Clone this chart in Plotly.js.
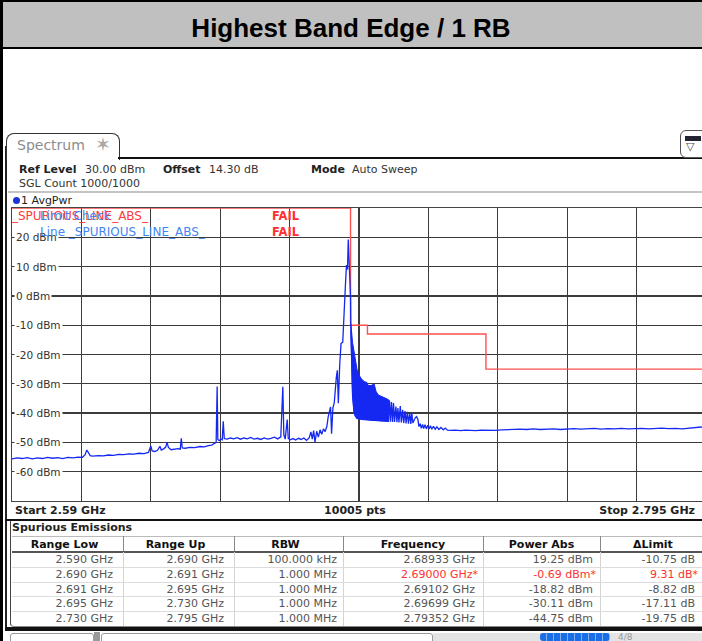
<!DOCTYPE html>
<html>
<head>
<meta charset="utf-8">
<script src="https://cdn.plot.ly/plotly-3.0.1.min.js"></script>
<style>
html,body{margin:0;padding:0;background:#fff;}
#page{position:relative;width:702px;height:641px;overflow:hidden;background:#fff;font-family:"DejaVu Sans",sans-serif;color:#222;}
.a{position:absolute;white-space:nowrap;}
.t{position:absolute;white-space:nowrap;font-size:11px;line-height:13px;height:13px;}
.b{font-weight:bold;}
#plot{position:absolute;left:0;top:0;width:720px;height:641px;z-index:1;}
.ov{z-index:3;}
.hc{position:absolute;font-size:11px;font-weight:bold;line-height:13px;text-align:center;color:#111;}
.dc{position:absolute;font-size:11px;line-height:13px;text-align:right;color:#555;}
</style>
</head>
<body>
<div id="page">
  <!-- title bar -->
  <div class="a" style="left:0;top:0;width:702px;height:45px;background:#c0c0c0;border-top:2px solid #000;border-bottom:2px solid #000;"></div>
  <div class="a" style="left:0;top:15px;width:702px;text-align:center;font:bold 26px 'Liberation Sans',Arial,sans-serif;line-height:26px;color:#000;">Highest Band Edge / 1 RB</div>
  <div class="a" style="left:0;top:0;width:3px;height:641px;background:#000;z-index:5;"></div>

  <!-- spectrum window frame -->
  <div class="a" style="left:5px;top:146px;width:2px;height:485px;background:#222;"></div>
  <div class="a" style="left:6px;top:133px;width:112px;height:26px;border:1.5px solid #333;border-bottom:none;border-radius:8px 8px 0 0;background:#fff;"></div>
  <div class="a" style="left:17px;top:137px;font-size:14px;line-height:17px;color:#8c8c8c;">Spectrum</div>
  <div class="a" style="left:95px;top:134px;font-size:19px;line-height:21px;color:#a8a8a8;">✶</div>
  <div class="a" style="left:118px;top:157px;width:584px;height:2px;background:#111;"></div>
  <div class="a" style="left:680px;top:130px;width:30px;height:26px;border:1.2px solid #555;border-radius:6px;background:#fff;"></div>
  <div class="a" style="left:685px;top:136px;width:16px;height:5px;background:#223;"></div>
  <div class="a" style="left:686px;top:140px;font-size:11px;line-height:13px;color:#445;">▽</div>

  <!-- header info -->
  <div class="t b" style="left:19px;top:162.5px;">Ref Level</div>
  <div class="t" style="left:85px;top:162.5px;color:#333;">30.00 dBm</div>
  <div class="t b" style="left:163px;top:162.5px;">Offset</div>
  <div class="t" style="left:209px;top:162.5px;color:#333;">14.30 dB</div>
  <div class="t b" style="left:311px;top:162.5px;">Mode</div>
  <div class="t" style="left:352px;top:162.5px;color:#333;">Auto Sweep</div>
  <div class="t" style="left:19px;top:177px;color:#333;">SGL Count 1000/1000</div>
  <div class="a" style="left:8px;top:191px;width:694px;height:2px;background:#c4c4c4;"></div>
  <div class="a" style="left:13px;top:196.5px;width:7px;height:7px;border-radius:50%;background:#1a36d8;"></div>
  <div class="t" style="left:21px;top:193.5px;color:#222;">1 AvgPwr</div>

  <!-- limit check overlay texts -->
  <div class="a ov" style="left:12px;top:209px;font-size:12px;line-height:14px;color:#ff3a3a;">_SPURIOUS_LINE_ABS_</div>
  <div class="a ov" style="left:40px;top:209px;font-size:12px;line-height:14px;color:#3f86f2;">Limit Check</div>
  <div class="a ov" style="left:272px;top:209px;font-size:11.5px;line-height:14px;color:#ff3030;font-weight:bold;">FAIL</div>
  <div class="a ov" style="left:40px;top:224.5px;font-size:12px;line-height:14px;color:#3f86f2;">Line _SPURIOUS_LINE_ABS_</div>
  <div class="a ov" style="left:272px;top:224.5px;font-size:11.5px;line-height:14px;color:#ff3030;font-weight:bold;">FAIL</div>

  <div id="plot"></div>

  <!-- bottom axis row -->
  <div class="t b ov" style="left:15px;top:503.5px;">Start 2.59 GHz</div>
  <div class="t b ov" style="left:305px;width:100px;text-align:center;top:503.5px;">10005 pts</div>
  <div class="t b ov" style="right:7px;top:503.5px;">Stop 2.795 GHz</div>
  <div class="a" style="left:5px;top:518.5px;width:697px;height:2px;background:#111;"></div>

  <!-- table -->
  <div class="a" style="left:10px;top:521px;width:700px;height:105px;border-left:1.5px solid #444;border-bottom:1px solid #888;border-radius:0 0 0 4px;"></div>
  <div class="t b" style="left:12px;top:520.5px;">Spurious Emissions</div>
  <div id="tbl"></div>
  <div class="a" style="left:5px;top:627px;width:697px;height:4px;background:#111;"></div>

  <!-- status strip -->
  <div class="a" style="left:10px;top:633px;width:82px;height:12px;border:1px solid #999;border-radius:3px;background:#fff;"></div>
  <div class="a" style="left:94px;top:632px;width:6px;height:10px;background:#9a9a9a;"></div>
  <div class="a" style="left:101px;top:633px;width:330px;height:12px;border:1px solid #999;border-radius:3px;background:#fff;"></div>
  <div class="a" style="left:433px;top:633px;width:269px;height:8px;background:#e4e4e4;"></div>
  <div class="a" style="left:540px;top:633px;width:70px;height:8px;border-radius:3px;background:repeating-linear-gradient(90deg,#1a6ee6 0 6px,#7fb0f0 6px 7px);"></div>
  <div class="a" style="left:618px;top:632px;font-size:9px;line-height:10px;color:#999;">4/8</div>
</div>

<script>
// ---------------- spectrum trace data (GHz / dBm) ----------------
// part below the band edge: 2.590 GHz .. 2.690 GHz
const lowFreqGHz = [
  2.5900,2.5915,2.5930,2.5945,2.5960,2.5975,2.5990,2.6005,2.6020,2.6035,2.6050,2.6065,2.6080,2.6095,2.6108,2.6116,2.6121,2.6126,2.6131,2.6138,
  2.6155,2.6170,2.6185,2.6200,2.6215,2.6230,2.6245,2.6260,2.6275,2.6290,2.6303,2.6310,2.6314,2.6322,2.6330,2.6337,2.6341,2.6348,2.6354,2.6358,2.6362,2.6370,2.6380,2.6390,2.6397,2.6400,2.6403,2.6412,2.6425,2.6440,2.6455,2.6468,2.6480,2.6490,2.6497,2.6503,
  2.6506,2.6508,2.6512,2.6517,2.6521,2.6524,2.6527,2.6535,2.6545,2.6555,2.6565,2.6575,2.6585,2.6595,2.6605,2.6615,2.6625,2.6635,2.6645,2.6655,2.6665,2.6675,2.6685,2.6694,2.6700,2.6703,2.6707,2.6713,2.6716,2.6722,2.6730,2.6738,2.6746,2.6754,2.6762,2.6770,2.6778,2.6783,2.6787,2.6791,2.6795,2.6800,2.6805,2.6810,2.6815,2.6820,2.6825,
  2.6830,2.6834,2.6838,2.6841,2.6844,2.6848,2.6852,2.6855,2.6858,2.6861,2.6864,2.6868,2.6872,2.6877,2.6881,2.6885,2.6888,2.6891,2.68933,2.6896,2.6898,2.6900
];
const lowPowerDbm = [
  -55.6,-55.3,-55.5,-55.2,-55.6,-55.3,-55.5,-55.1,-55.4,-55.2,-55.5,-55.1,-55.3,-55.0,-55.1,-54.2,-52.6,-53.4,-54.5,-54.7,
  -54.5,-54.6,-54.3,-54.4,-54.1,-54.2,-53.9,-54.0,-53.7,-53.8,-53.4,-51.2,-52.9,-53.1,-52.7,-51.3,-52.6,-52.2,-51.6,-50.0,-51.7,-52.5,-52.3,-52.1,-52.3,-48.6,-51.9,-52.0,-51.7,-51.8,-51.4,-51.5,-51.1,-50.9,-50.4,-50.0,
  -30.9,-49.0,-49.4,-48.9,-49.1,-42.8,-48.7,-48.9,-48.5,-48.8,-48.4,-48.9,-48.5,-48.8,-48.3,-48.9,-48.6,-49.0,-48.5,-48.9,-48.6,-48.2,-48.8,-48.1,-31.0,-47.4,-48.9,-42.2,-48.6,-49.1,-48.7,-49.2,-48.6,-49.0,-48.5,-49.3,-48.4,-46.4,-48.9,-46.0,-49.9,-46.2,-48.2,-45.7,-47.2,-45.4,-46.3,
  -44.6,-41.3,-38.9,-37.9,-47.0,-38.2,-36.4,-29.9,-27.8,-25.4,-36.6,-23.5,-16.2,-15.8,-8.0,4.0,10.5,9.0,19.25,11.0,3.5,-0.69
];
// densely modulated region just above the band edge (envelope of the trace)
const bandFreqGHz  = [2.6901,2.6903,2.6906,2.69102,2.6914,2.6919,2.6925,2.6932,2.6940,2.6949,2.6951,2.6960,2.69699,2.6975,2.6982,2.6990,2.6998,2.7005,2.7012];
const bandUpperDbm = [-9.5,-12.5,-16.0,-18.82,-22.0,-25.0,-27.0,-28.3,-29.2,-29.6,-30.5,-30.6,-30.11,-32.5,-33.8,-34.2,-34.5,-35.0,-35.4];
const bandLowerDbm = [-12.0,-24.0,-34.0,-39.5,-41.0,-41.8,-42.0,-42.1,-42.2,-42.2,-42.3,-42.4,-42.5,-42.5,-42.6,-42.6,-42.7,-42.7,-42.8];
// part above the dense region: 2.7015 GHz .. 2.795 GHz
const highFreqGHz = [
  2.7015,2.7018,2.7021,2.7024,2.7027,2.7030,2.7034,2.7037,2.7040,2.7043,2.7047,2.7050,2.7054,2.7057,2.7061,2.7064,2.7068,2.7071,2.7075,2.7078,2.7081,2.7084,2.7088,2.7091,2.7095,2.7099,2.7102,2.7106,2.7109,2.7113,2.7116,2.7120,2.7124,2.7128,2.7132,2.7136,2.7140,2.7145,2.7150,2.7155,2.7161,2.7167,2.7174,2.7180,2.7186,
  2.7195,2.7210,2.7225,2.7240,2.7255,2.7270,2.7285,2.7300,2.7315,2.7330,2.7345,2.7360,2.7380,2.7400,2.7420,2.7440,2.7460,2.7480,2.7500,2.7520,2.7540,2.7560,2.7580,2.7600,2.7620,2.7640,2.7660,2.7680,2.7700,2.7720,2.7740,2.7760,2.7780,2.7800,2.7820,2.7840,2.7860,2.7880,2.7900,2.7920,2.79352,2.7945,2.7950
];
const highPowerDbm = [
  -35.6,-42.9,-36.2,-43.0,-36.6,-43.0,-37.8,-43.1,-38.3,-43.2,-37.6,-43.2,-38.9,-43.4,-39.3,-43.5,-39.6,-43.6,-40.1,-43.7,-39.9,-43.4,-42.0,-41.6,-41.2,-42.2,-44.6,-43.6,-45.2,-43.9,-45.3,-44.0,-45.4,-44.1,-45.4,-44.3,-45.5,-44.5,-45.5,-44.7,-45.6,-44.9,-45.7,-45.1,-45.8,
  -45.9,-45.8,-46.0,-45.8,-45.9,-46.0,-45.8,-45.9,-45.8,-45.9,-45.7,-45.6,-45.7,-45.5,-45.6,-45.4,-45.6,-45.5,-45.4,-45.6,-45.4,-45.3,-45.5,-45.4,-45.2,-45.5,-45.3,-45.4,-45.2,-45.4,-45.3,-45.2,-45.4,-45.3,-45.1,-45.3,-45.2,-45.4,-45.2,-45.1,-44.75,-45.2,-45.3
];
// limit line _SPURIOUS_LINE_ABS_
const limitFreqGHz = [2.590, 2.690, 2.690, 2.695, 2.695, 2.730, 2.730, 2.795];
const limitDbm     = [30, 30, -10, -10, -13, -13, -25, -25];
// y axis tick labels
const yTickValues = [20, 10, 0, -10, -20, -30, -40, -50, -60];
const yTickLabels = ['20 dBm','10 dBm','0 dBm','-10 dBm','-20 dBm','-30 dBm','-40 dBm','-50 dBm','-60 dBm'];

// ---------------- spurious emissions table ----------------
const colHeaders   = ['Range Low','Range Up','RBW','Frequency','Power Abs','\u0394Limit'];
const rangeLowGHz  = [2.590, 2.690, 2.691, 2.695, 2.730];
const rangeUpGHz   = [2.690, 2.691, 2.695, 2.730, 2.795];
const rbwLabels    = ['100.000 kHz','1.000 MHz','1.000 MHz','1.000 MHz','1.000 MHz'];
const peakFreqGHz  = [2.68933, 2.69000, 2.69102, 2.69699, 2.79352];
const powerAbsDbm  = [19.25, -0.69, -18.82, -30.11, -44.75];
const deltaLimitDb = [-10.75, 9.31, -8.82, -17.11, -19.75];
const failFlags    = [false, true, false, false, false];

// ---------------- build the chart ----------------
const blue = '#1428f2';
const traceX = lowFreqGHz.concat(bandFreqGHz, highFreqGHz);
const traceY = lowPowerDbm.concat(bandLowerDbm, highPowerDbm);

const traces = [
  {x: limitFreqGHz, y: limitDbm, mode: 'lines', line: {color: '#ff5050', width: 1.4}, hoverinfo: 'skip'},
  {x: bandFreqGHz.concat(bandFreqGHz.slice().reverse()),
   y: bandUpperDbm.concat(bandLowerDbm.slice().reverse()),
   mode: 'lines', fill: 'toself', fillcolor: blue, line: {color: blue, width: 1}, hoverinfo: 'skip'},
  {x: traceX, y: traceY, mode: 'lines', line: {color: blue, width: 1.3}, hoverinfo: 'skip'}
];

const axisCommon = {
  showgrid: true, gridcolor: '#3c3c3c', gridwidth: 1.3,
  showticklabels: false, ticks: '', zeroline: false,
  showline: true, mirror: true, linecolor: '#444', linewidth: 1.2,
  layer: 'below traces', fixedrange: true
};

const layout = {
  width: 720, height: 641,
  margin: {l: 12, r: 14.4, t: 208, b: 139.5, pad: 0},
  paper_bgcolor: 'rgba(0,0,0,0)', plot_bgcolor: 'rgba(0,0,0,0)',
  showlegend: false,
  xaxis: Object.assign({range: [2.59, 2.795], tick0: 2.59, dtick: 0.0205}, axisCommon),
  yaxis: Object.assign({range: [-70, 30], tick0: 0, dtick: 10}, axisCommon),
  annotations: yTickValues.map((v, i) => ({
    xref: 'paper', yref: 'y', x: 0, y: v, xanchor: 'left', yanchor: 'middle',
    xshift: 2, text: yTickLabels[i], showarrow: false,
    bgcolor: '#ffffff', borderpad: 1,
    font: {family: 'DejaVu Sans', size: 10.5, color: '#333'}
  }))
};

Plotly.newPlot('plot', traces, layout, {staticPlot: true, displayModeBar: false});

// ---------------- build the table ----------------
const colEdges = [12, 123, 234, 343, 483, 600, 706];
const padRight = [10, 10, 6, 8, 7, 11];
const rowTop0 = 552, rowH = 14.75;
let html = '';
html += '<div class="a" style="left:12px;top:535.5px;width:694px;height:1px;background:#bbb;"></div>';
html += '<div class="a" style="left:12px;top:551px;width:694px;height:1.5px;background:#555;"></div>';
for (let c = 0; c < colHeaders.length; c++) {
  const w = colEdges[c + 1] - colEdges[c];
  const shift = c < 3 ? 6 : 0;
  html += `<div class="hc" style="left:${colEdges[c]}px;top:537.5px;width:${w - shift}px;">${colHeaders[c]}</div>`;
  if (c > 0) {
    html += `<div class="a" style="left:${colEdges[c]}px;top:536px;width:1px;height:15px;background:#888;"></div>`;
    html += `<div class="a" style="left:${colEdges[c]}px;top:552px;width:1px;height:74px;background:#d4d4d4;"></div>`;
  }
}
for (let r = 0; r < rangeLowGHz.length; r++) {
  const top = rowTop0 + r * rowH;
  if (r > 0) html += `<div class="a" style="left:12px;top:${top}px;width:694px;height:1px;background:#dcdcdc;"></div>`;
  const star = failFlags[r] ? '<span style="margin-right:-3px">*</span>' : '';
  const cells = [
    rangeLowGHz[r].toFixed(3) + ' GHz',
    rangeUpGHz[r].toFixed(3) + ' GHz',
    rbwLabels[r],
    peakFreqGHz[r].toFixed(5) + ' GHz' + star,
    powerAbsDbm[r].toFixed(2) + ' dBm' + star,
    deltaLimitDb[r].toFixed(2) + ' dB' + star
  ];
  for (let c = 0; c < cells.length; c++) {
    const w = colEdges[c + 1] - colEdges[c] - padRight[c];
    const col = (failFlags[r] && c >= 3) ? '#ff3030' : '#555';
    html += `<div class="dc" style="left:${colEdges[c]}px;top:${(top + 1).toFixed(2)}px;width:${w}px;color:${col};">${cells[c]}</div>`;
  }
}
document.getElementById('tbl').innerHTML = html;
</script>
</body>
</html>
